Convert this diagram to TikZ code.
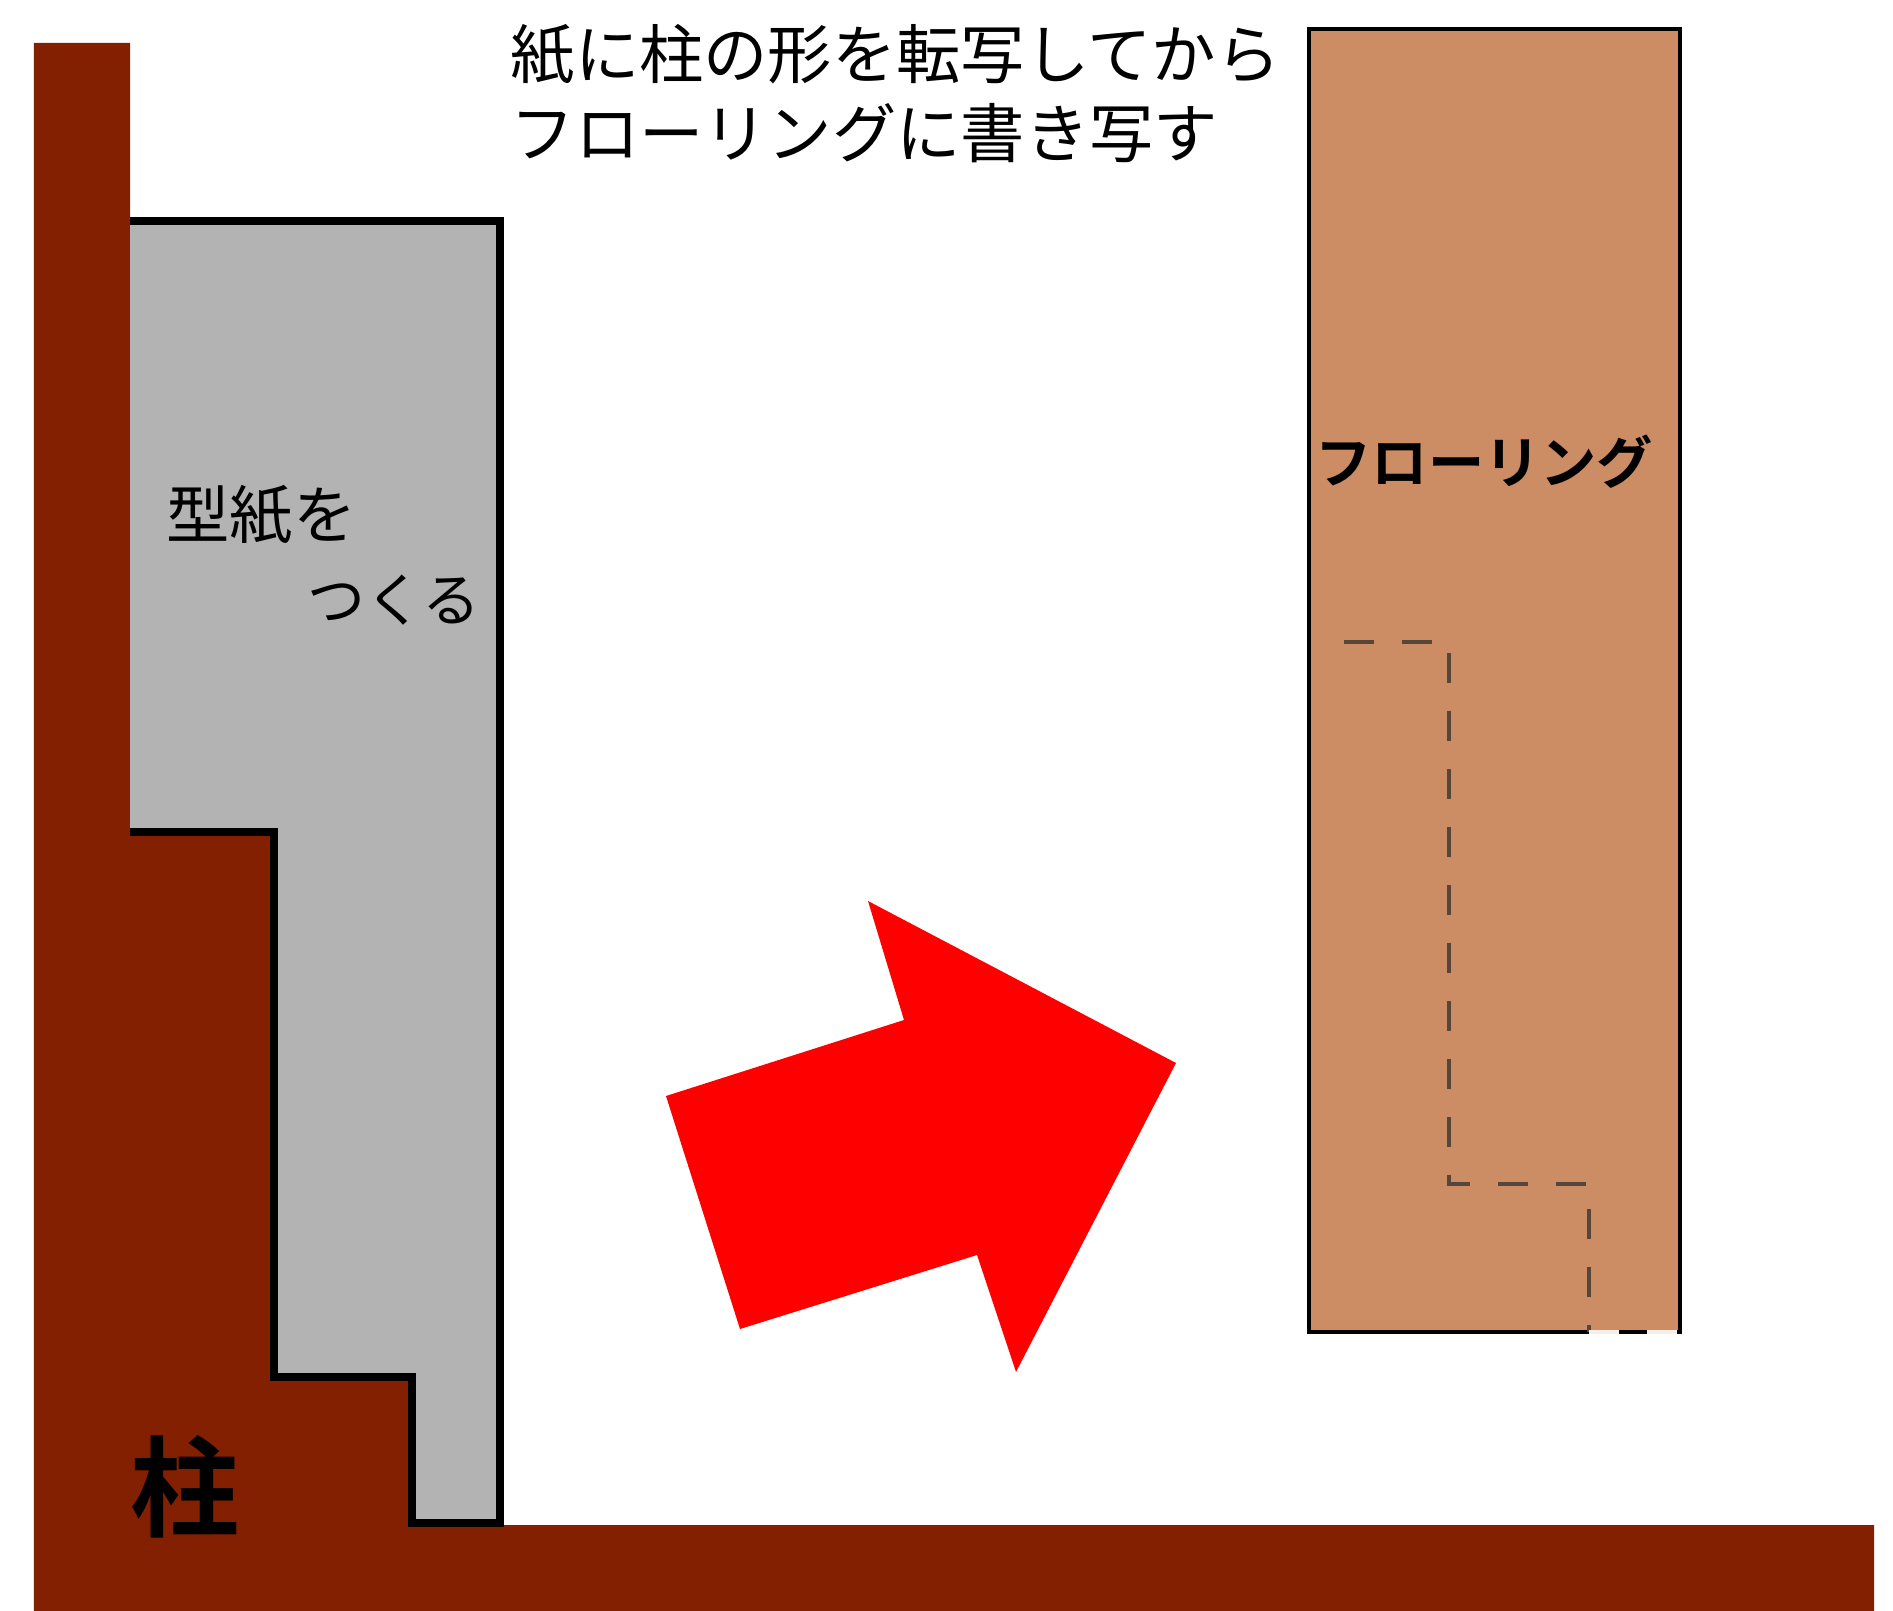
\documentclass[tikz,border=0pt]{standalone}
\usepackage{fontspec}
\usepackage{tikz}
\newfontfamily\jpfont{Noto Sans CJK JP}
\newfontfamily\jpbold{Noto Sans CJK JP Bold}
\definecolor{pillar}{RGB}{131,32,2}
\definecolor{paper}{RGB}{179,179,179}
\definecolor{floor}{RGB}{204,140,100}
\definecolor{trace}{RGB}{85,70,60}

\begin{document}
\begin{tikzpicture}
			\useasboundingbox (0,0) rectangle (18.93,-16.11);
			% 柱
			\fill[pillar] (0.34,-0.43) -- (1.30,-0.43) -- (1.30,-8.32) -- (2.74,-8.32) -- (2.74,-13.77) -- (4.12,-13.77) -- (4.12,-15.25) -- (18.74,-15.25) -- (18.74,-16.11) -- (0.34,-16.11) -- cycle;
			% 型紙
			\fill[paper] (1.30,-2.21) -- (5.00,-2.21) -- (5.00,-15.23) -- (4.12,-15.23) -- (4.12,-13.77) -- (2.74,-13.77) -- (2.74,-8.32) -- (1.30,-8.32) -- cycle;
			\draw[line width=2pt,line join=miter] (1.30,-2.21) -- (5.00,-2.21) -- (5.00,-15.23) -- (4.12,-15.23) -- (4.12,-13.77) -- (2.74,-13.77) -- (2.74,-8.32) -- (1.30,-8.32);
			% フローリング
			\draw[fill=floor,line width=1.3pt] (13.09,-0.29) rectangle (16.80,-13.32);
			\draw[trace,line width=1.1pt,dash pattern=on 8.5pt off 8pt] (13.44,-6.42) -- (14.49,-6.42) -- (14.49,-11.84) -- (15.89,-11.84) -- (15.89,-13.32);
			\draw[white!85!floor,line width=1.1pt,dash pattern=on 8.5pt off 8pt] (15.89,-13.32) -- (16.80,-13.32);
			% 矢印
			\fill[red] (6.66,-10.96) -- (9.04,-10.20) -- (8.68,-9.01) -- (11.76,-10.63) -- (10.16,-13.72) -- (9.77,-12.55) -- (7.40,-13.29) -- cycle;
			% 文字
			\node[anchor=west,inner sep=0,align=left,font=\jpfont\fontsize{18.3pt}{22.5pt}\selectfont] (title) at (5.10,-0.94) {紙に柱の形を転写してから\\フローリングに書き写す};
			\node[anchor=west,inner sep=0,font=\jpfont\fontsize{18pt}{21pt}\selectfont] (paperlabel) at (1.66,-5.15) {型紙を};
			\node[anchor=west,inner sep=0,font=\jpfont\fontsize{16.5pt}{20pt}\selectfont] (paperlabel2) at (3.07,-6.00) {つくる};
			\node[anchor=west,inner sep=0,font=\jpbold\fontsize{16pt}{19pt}\selectfont] (floorlabel) at (13.15,-4.62) {フローリング};
			\node[inner sep=0,font=\jpbold\fontsize{31pt}{36pt}\selectfont] (postlabel) at (1.85,-14.87) {柱};
		\end{tikzpicture}
\end{document}
